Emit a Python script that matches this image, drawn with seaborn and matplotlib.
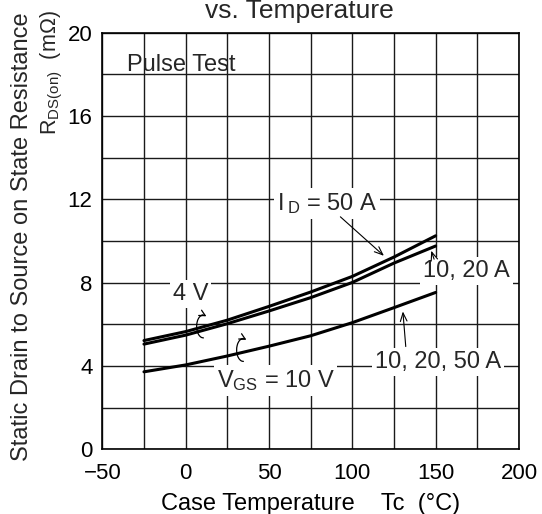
import seaborn as sns
import pandas as pd
import matplotlib.pyplot as plt
import matplotlib.patches as mpatches
import numpy as np

# Case temperature (deg C) and R_DS(on) (mOhm)
temps = [-25, 0, 25, 50, 75, 100, 125, 150]
rds_4v_50a = [5.22, 5.65, 6.2, 6.86, 7.55, 8.3, 9.23, 10.25]
rds_4v_1020a = [5.05, 5.48, 6.03, 6.64, 7.28, 8.01, 8.94, 9.76]
rds_10v = [3.72, 4.05, 4.48, 4.95, 5.45, 6.08, 6.8, 7.53]

x_ticks = [-50, 0, 50, 100, 150, 200]
y_ticks = [0, 4, 8, 12, 16, 20]

sns.set_theme(style="white")
plt.rcParams['font.family'] = ['Liberation Sans', 'DejaVu Sans']
plt.rcParams['mathtext.fontset'] = 'custom'
plt.rcParams['mathtext.rm'] = 'Liberation Sans'
plt.rcParams['mathtext.it'] = 'Liberation Sans:italic'

df = pd.DataFrame({
    "temp": temps * 3,
    "rds": rds_4v_50a + rds_4v_1020a + rds_10v,
    "curve": ["4V 50A"] * len(temps) + ["4V 10,20A"] * len(temps) + ["10V"] * len(temps),
})

fig = plt.figure(figsize=(5.42, 5.14), dpi=100)
ax = fig.add_axes([0.18875, 0.12588, 0.7688, 0.8105])

sns.lineplot(data=df, x="temp", y="rds", hue="curve", palette=["black"] * 3,
             linewidth=2.2, legend=False, ax=ax)

ax.set_xlim(-50, 200)
ax.set_ylim(0, 20)
ax.set_xticks(x_ticks)
ax.set_yticks(y_ticks)
ax.set_xticks(np.arange(-50, 201, 25), minor=True)
ax.set_yticks(np.arange(0, 21, 2), minor=True)
ax.grid(True, which='both', color='#1a1a1a', linewidth=1.0)
ax.tick_params(axis='both', which='both', length=0, labelsize=16, colors='black')
ax.tick_params(axis='x', pad=10)
ax.tick_params(axis='y', pad=7)
for sp in ax.spines.values():
    sp.set_color('black')
    sp.set_linewidth(1.2)

ax.set_xlabel("Case Temperature    Tc  (°C)", fontsize=17, color='black', labelpad=6)
ax.set_ylabel("")

fig.text(0.04, 0.54, "Static Drain to Source on State Resistance", rotation=90,
         ha='center', va='center', fontsize=17)
fig.text(0.0955, 1 - 10 / 514, r"R$_\mathregular{DS(on)}$  (mΩ)", rotation=90,
         ha='center', va='top', fontsize=15.5)
fig.text(0.552, 1 - 18.3 / 514, "vs. Temperature", ha='center', va='baseline', fontsize=19)

box = dict(facecolor='white', edgecolor='none', pad=2)
fs = 17
ax.text(-35, 18.45, "Pulse Test", ha='left', va='center', fontsize=fs)
ax.text(85, 11.8, r"I$\,_\mathregular{D}$ = 50 A", ha='center', va='center', fontsize=fs, bbox=box)
ax.text(168.5, 8.55, "10, 20 A", ha='center', va='center', fontsize=fs, bbox=box)
ax.text(151.5, 4.2, "10, 20, 50 A", ha='center', va='center', fontsize=fs, bbox=box)
ax.text(54, 3.3, r"V$_\mathregular{GS}$ = 10 V", ha='center', va='center', fontsize=fs, bbox=box)
ax.text(3, 7.45, "4 V", ha='center', va='center', fontsize=fs, bbox=box)

arrow = dict(arrowstyle='->,head_length=0.5,head_width=0.2', color='black', lw=0.8)
ax.annotate("", xy=(120.2, 9.2), xytext=(91.6, 11.25), arrowprops=arrow)
ax.annotate("", xy=(146.8, 9.66), xytext=(149.6, 9.0), arrowprops=arrow)
ax.annotate("", xy=(130.2, 6.75), xytext=(132.2, 4.8), arrowprops=arrow)

# little rotation marks next to the curves (oval arc + arrow head at the top)
for cx, cy in [(10.6, 5.9), (34.6, 4.77)]:
    w, h = 8.0, 1.1
    ax.add_patch(mpatches.Arc((cx, cy), w, h, theta1=75, theta2=300,
                              color='black', lw=0.9))
    t0, t1 = np.deg2rad(110), np.deg2rad(62)
    ax.annotate("", xy=(cx + w / 2 * np.cos(t1), cy + h / 2 * np.sin(t1)),
                xytext=(cx + w / 2 * np.cos(t0), cy + h / 2 * np.sin(t0)),
                arrowprops=dict(arrowstyle='->,head_length=0.35,head_width=0.18',
                                color='black', lw=0.9, shrinkA=0, shrinkB=0,
                                connectionstyle='arc3,rad=-0.2'))

fig.savefig("out.png", dpi=100, facecolor='white')
